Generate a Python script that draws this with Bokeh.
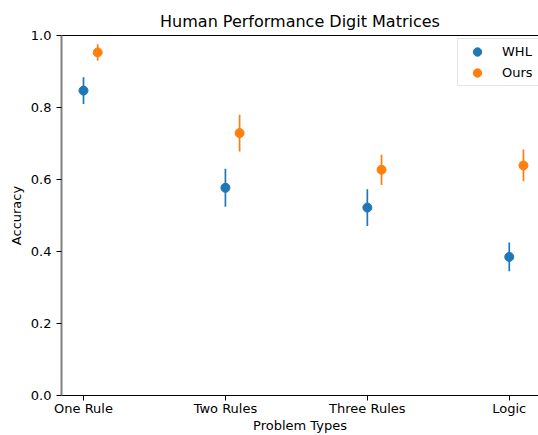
from bokeh.plotting import figure
from bokeh.models import (Range1d, FixedTicker, LinearAxis, Legend, LegendItem,
                          ColumnDataSource, PrintfTickFormatter)
from bokeh.transform import dodge
from bokeh.embed import file_html
from bokeh.resources import INLINE

# ---- data ----
categories = ["One Rule", "Two Rules", "Three Rules", "Logic"]
whl_acc = [0.847, 0.577, 0.522, 0.385]
whl_err = [0.037, 0.053, 0.051, 0.040]
ours_acc = [0.953, 0.729, 0.627, 0.639]
ours_err = [0.023, 0.051, 0.042, 0.044]
y_ticks = [0.0, 0.2, 0.4, 0.6, 0.8, 1.0]

BLUE = "#1f77b4"
ORANGE = "#ff7f0e"
FONT = "DejaVu Sans"

xpos = list(range(len(categories)))
whl = ColumnDataSource(dict(x=xpos, y=whl_acc,
                            lo=[a - e for a, e in zip(whl_acc, whl_err)],
                            hi=[a + e for a, e in zip(whl_acc, whl_err)]))
ours = ColumnDataSource(dict(x=xpos, y=ours_acc,
                             lo=[a - e for a, e in zip(ours_acc, ours_err)],
                             hi=[a + e for a, e in zip(ours_acc, ours_err)]))

p = figure(width=538, height=435, output_backend="svg", toolbar_location=None,
           x_range=Range1d(-0.155, 3.206), y_range=Range1d(0, 1.0),
           min_border_left=61, min_border_right=0, min_border_top=35, min_border_bottom=40,
           title="Human Performance Digit Matrices",
           x_axis_label="Problem Types", y_axis_label="Accuracy")
p.grid.visible = False
p.outline_line_color = None
p.background_fill_color = "white"
p.border_fill_color = "white"

# error bars
p.segment(x0="x", y0="lo", x1="x", y1="hi", source=whl, line_color=BLUE, line_width=1.7)
xo = dodge("x", 0.1)
p.segment(x0=xo, y0="lo", x1=xo, y1="hi", source=ours, line_color=ORANGE, line_width=1.7)
r1 = p.scatter("x", "y", source=whl, size=9, fill_color=BLUE, line_color=BLUE)
r2 = p.scatter(x=xo, y="y", source=ours, size=9, fill_color=ORANGE, line_color=ORANGE)

# axes
for ax in (p.xaxis[0], p.yaxis[0]):
    ax.major_tick_out = 5
    ax.major_tick_in = 0
    ax.minor_tick_line_color = None
    ax.major_tick_line_color = "black"
    ax.major_tick_line_width = 1
    ax.major_label_text_font = FONT
    ax.major_label_text_font_size = "13px"
    ax.major_label_text_color = "black"
    ax.axis_label_text_font = FONT
    ax.axis_label_text_font_size = "13px"
    ax.axis_label_text_font_style = "normal"
    ax.axis_label_text_color = "black"

p.xaxis.ticker = FixedTicker(ticks=xpos)
p.xaxis.major_label_overrides = {i: c for i, c in enumerate(categories)}
p.xaxis.axis_line_color = "black"
p.xaxis.axis_line_width = 1
p.xaxis.major_label_standoff = 0
p.xaxis.axis_label_standoff = -1

p.yaxis.ticker = FixedTicker(ticks=y_ticks)
p.yaxis.formatter = PrintfTickFormatter(format="%.1f")
p.yaxis.axis_line_color = "#808080"
p.yaxis.axis_line_width = 2
p.yaxis.major_label_standoff = 5
p.yaxis.axis_label_standoff = 4

top = LinearAxis(ticker=FixedTicker(ticks=[]), major_tick_line_color=None,
                 minor_tick_line_color=None, axis_line_color="black", axis_line_width=1,
                 major_label_text_font_size="0px")
p.add_layout(top, "above")

p.title.text_font = FONT
p.title.text_font_size = "16px"
p.title.text_font_style = "normal"
p.title.text_color = "black"
p.title.align = "center"

legend = Legend(items=[LegendItem(label="WHL", renderers=[r1]),
                       LegendItem(label="Ours", renderers=[r2])],
                location=(396, 309), padding=2, spacing=0, margin=0,
                glyph_width=34, glyph_height=21, label_height=21, label_width=34,
                label_standoff=8, label_text_font=FONT, label_text_font_size="13px",
                label_text_color="black",
                border_line_color="#cccccc", border_line_width=1,
                background_fill_color="white", background_fill_alpha=0.8)
p.add_layout(legend)

open("out.html", "w").write(file_html(p, INLINE))
